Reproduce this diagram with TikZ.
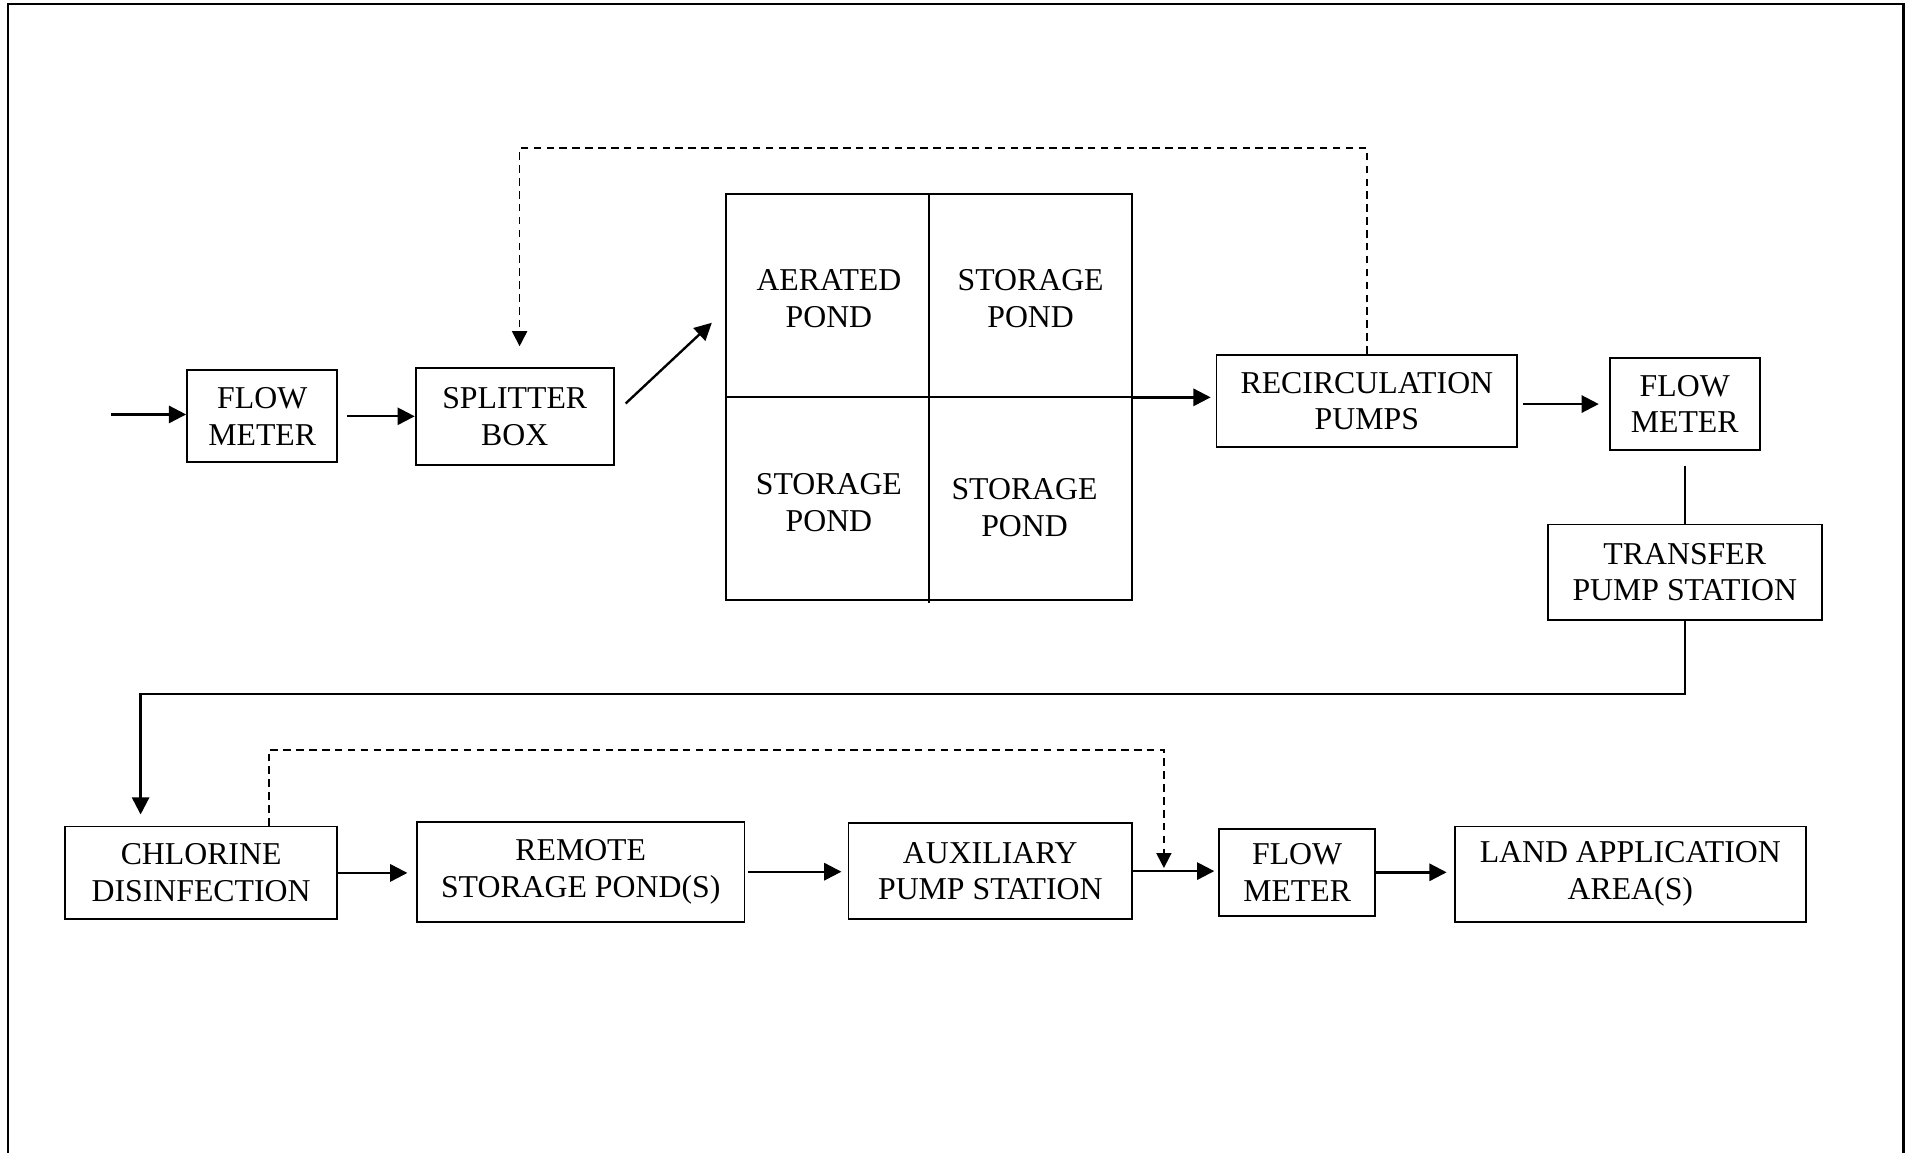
\documentclass[tikz,border=0pt]{standalone}
\usepackage{fontspec}
\setmainfont{Liberation Serif}
\usetikzlibrary{arrows.meta}
\begin{document}
\begin{tikzpicture}[x=0.02cm,y=-0.02cm,
  box/.style={draw,line width=0.9pt,inner sep=0pt,align=center,font=\fontsize{14.8}{17.1}\selectfont},
  lbl/.style={inner sep=0pt,align=center,font=\fontsize{14.8}{17.1}\selectfont},
  flow/.style={line width=1.1pt,-{Triangle[length=8pt,width=8pt]}},
  plainline/.style={line width=0.9pt},
  fb/.style={line width=0.8pt,dash pattern=on 3.5pt off 2.5pt},
  fbarrow/.style={fb,-{Triangle[length=7pt,width=7pt]}}]
\useasboundingbox (0,0) rectangle (1568,943);
\draw[line width=1.2pt] (6.5,950) -- (6.5,3.3) -- (1557,3.3) -- (1557,950);

% top row
\node[box,minimum width=2.46cm,minimum height=1.5cm] (fm1) at (214.5,340.5) {FLOW\\METER};
\node[box,minimum width=3.24cm,minimum height=1.58cm] (sb) at (421,340.5) {SPLITTER\\BOX};
\node[draw,line width=0.9pt,minimum width=6.64cm,minimum height=6.64cm,inner sep=0pt] (pond) at (760,325) {};
\draw[plainline] (pond.north) -- ++(0,335);
\draw[plainline] (pond.west) -- (pond.east);
\node[lbl] (p1) at (678,244) {AERATED\\POND};
\node[lbl] (p2) at (843,244) {STORAGE\\POND};
\node[lbl] (p3) at (678,411) {STORAGE\\POND};
\node[lbl] (p4) at (838,415) {STORAGE\\POND};
\node[box,minimum width=4.92cm,minimum height=1.52cm] (rec) at (1118,328) {RECIRCULATION\\PUMPS};
\node[box,minimum width=2.46cm,minimum height=1.5cm] (fm2) at (1378,330.5) {FLOW\\METER};
\node[box,minimum width=4.48cm,minimum height=1.56cm] (tps) at (1378,468) {TRANSFER\\PUMP STATION};

% bottom row
\node[box,minimum width=4.46cm,minimum height=1.52cm] (chl) at (164.5,714) {CHLORINE\\DISINFECTION};
\node[box,minimum width=5.36cm,minimum height=1.64cm] (rsp) at (475,713) {REMOTE\\STORAGE POND(S)};
\node[box,minimum width=4.64cm,minimum height=1.58cm] (aux) at (810,712.5) {AUXILIARY\\PUMP STATION};
\node[box,minimum width=2.56cm,minimum height=1.42cm] (fm3) at (1061,713.5) {FLOW\\METER};
\node[box,minimum width=5.74cm,minimum height=1.56cm] (land) at (1333.5,715) {LAND APPLICATION\\AREA(S)};

\coordinate (in) at (91,339);
\coordinate (j) at (952,714);

% connectors
\draw[flow] (in) -- (in -| fm1.west);
\draw[flow,shorten <=0.14cm] (fm1.east) -- (fm1.east -| sb.west);
\draw[flow] ([shift={(9,-10.5)}]sb.east) -- ([shift={(-11,-61)}]pond.west);
\draw[flow,shorten >=0.08cm] (pond.east) -- (pond.east -| rec.west);
\draw[fbarrow,shorten >=0.34cm] (rec.north) -- ++(0,-168) -| ([shift={(4,0)}]sb.north);
\draw[flow,shorten <=0.08cm,shorten >=0.16cm] (rec.east |- fm2.west) -- (fm2.west);
\draw[plainline,shorten <=0.24cm] (fm2.south) -- (fm2.south |- tps.north);
\draw[flow,shorten >=0.18cm] (tps.south) -- ++(0,60) -| ([xshift=-0.99cm]chl.north);
\draw[fbarrow,shorten >=0.08cm] ([xshift=1.11cm]chl.north) -- ++(0,-62) -| (j);
\draw[flow,shorten >=0.14cm] (chl.east) -- (chl.east -| rsp.west);
\draw[flow,shorten <=0.04cm,shorten >=0.1cm] (rsp.east) -- (rsp.east -| aux.west);
\draw[flow,shorten >=0.06cm] (aux.east) -- (aux.east -| fm3.west);
\draw[flow,shorten >=0.12cm] (fm3.east) -- (fm3.east -| land.west);
\end{tikzpicture}
\end{document}
